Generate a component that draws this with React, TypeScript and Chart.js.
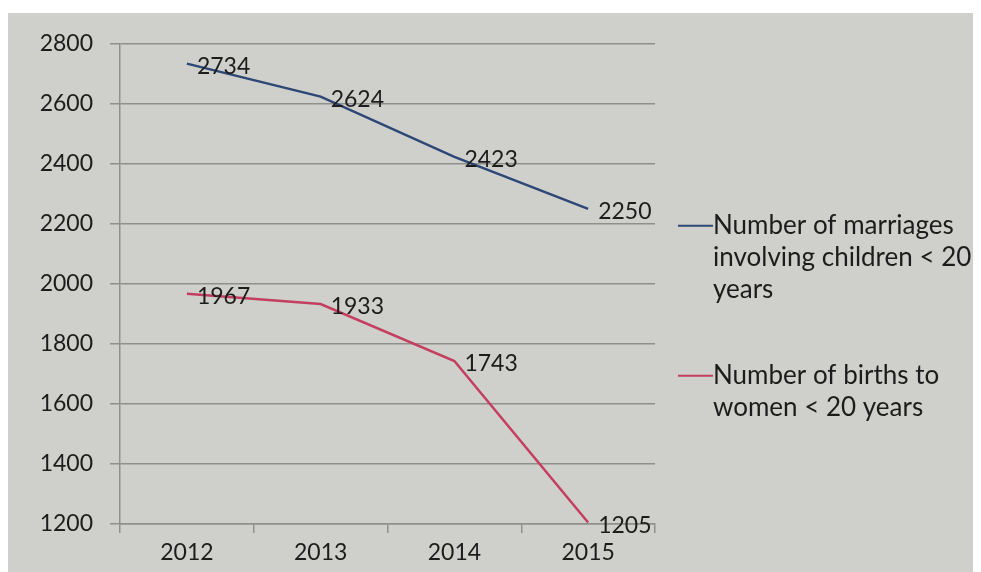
import React, { useEffect, useRef } from "react";
import { Chart, registerables } from "chart.js";

Chart.register(...registerables);

const years = ["2012", "2013", "2014", "2015"];
const marriages = [2734, 2624, 2423, 2250];
const births = [1967, 1933, 1743, 1205];
const seriesNames = [
  "Number of marriages involving children < 20 years",
  "Number of births to women < 20 years",
];
const legendLines = [
  ["Number of marriages", "involving children < 20", "years"],
  ["Number of births to", "women < 20 years"],
];
const yMin = 1200;
const yMax = 2800;
const yStep = 200;

const FONT = "Lato, 'Open Sans', sans-serif";
const TEXT = "#1c1c1c";
const GRID = "#8f8f8b";
const BLUE = "#2d4777";
const RED = "#c43e60";
const NUM_SIZE = 23;
const LEGEND_SIZE = 26;

const dataLabelPlugin = {
  id: "dataLabels",
  afterDatasetsDraw(chart: any) {
    const ctx = chart.ctx;
    ctx.save();
    ctx.font = `${NUM_SIZE}px ${FONT}`;
    ctx.fillStyle = TEXT;
    ctx.textAlign = "left";
    ctx.textBaseline = "middle";
    chart.data.datasets.forEach((ds: any, i: number) => {
      const meta = chart.getDatasetMeta(i);
      meta.data.forEach((pt: any, j: number) => {
        ctx.fillText(String(ds.data[j]), pt.x + 10, pt.y + 3);
      });
    });
    ctx.restore();
  },
};

const sideLegendPlugin = {
  id: "sideLegend",
  afterDraw(chart: any) {
    const ctx = chart.ctx;
    const area = chart.chartArea;
    const x0 = area.right + 23;
    const starts = [area.top + 182, area.top + 332];
    const lineH = 32;
    ctx.save();
    ctx.font = `${LEGEND_SIZE}px ${FONT}`;
    ctx.textAlign = "left";
    ctx.textBaseline = "middle";
    chart.data.datasets.forEach((ds: any, i: number) => {
      const y = starts[i];
      ctx.strokeStyle = ds.borderColor;
      ctx.lineWidth = 2;
      ctx.beginPath();
      ctx.moveTo(x0, y);
      ctx.lineTo(x0 + 35, y);
      ctx.stroke();
      ctx.fillStyle = TEXT;
      legendLines[i].forEach((t, k) => {
        ctx.fillText(t, x0 + 35, y + k * lineH);
      });
    });
    ctx.restore();
  },
};

export default function App() {
  const ref = useRef<HTMLCanvasElement | null>(null);

  useEffect(() => {
    document.body.style.overflow = "hidden";
    if (!ref.current) return;
    const chart = new Chart(ref.current, {
      type: "line",
      data: {
        labels: years,
        datasets: [
          {
            label: seriesNames[0],
            data: marriages,
            borderColor: BLUE,
            backgroundColor: BLUE,
            borderWidth: 2.5,
            pointRadius: 0,
            tension: 0,
          },
          {
            label: seriesNames[1],
            data: births,
            borderColor: RED,
            backgroundColor: RED,
            borderWidth: 2.5,
            pointRadius: 0,
            tension: 0,
          },
        ],
      },
      options: {
        responsive: false,
        animation: false,
        layout: { padding: { left: 30, right: 326, top: 30, bottom: 0 } },
        plugins: {
          legend: { display: false },
          tooltip: { enabled: false },
        },
        scales: {
          x: {
            offset: true,
            afterFit: (s: any) => {
              s.height = 48;
            },
            grid: {
              offset: true,
              drawOnChartArea: false,
              drawTicks: true,
              tickLength: 9,
              color: GRID,
              lineWidth: 1.5,
            },
            border: { display: true, color: GRID, width: 1.5 },
            ticks: {
              color: TEXT,
              font: { family: FONT, size: NUM_SIZE },
              padding: 6,
            },
          },
          y: {
            min: yMin,
            max: yMax,
            afterFit: (s: any) => {
              s.width = 82;
            },
            grid: {
              color: GRID,
              lineWidth: 1.5,
              tickLength: 10,
            },
            border: { display: true, color: GRID, width: 1.5 },
            ticks: {
              stepSize: yStep,
              color: TEXT,
              font: { family: FONT, size: NUM_SIZE },
              padding: 17,
              callback: (v: any) => String(v),
            },
          },
        },
      },
      plugins: [dataLabelPlugin, sideLegendPlugin],
    });
    return () => chart.destroy();
  }, []);

  return (
    <div style={{ paddingTop: 5 }}>
      <div style={{ width: 973, height: 559, background: "#cfcfcb" }}>
        <canvas ref={ref} width={973} height={559} style={{ display: "block" }} />
      </div>
    </div>
  );
}
